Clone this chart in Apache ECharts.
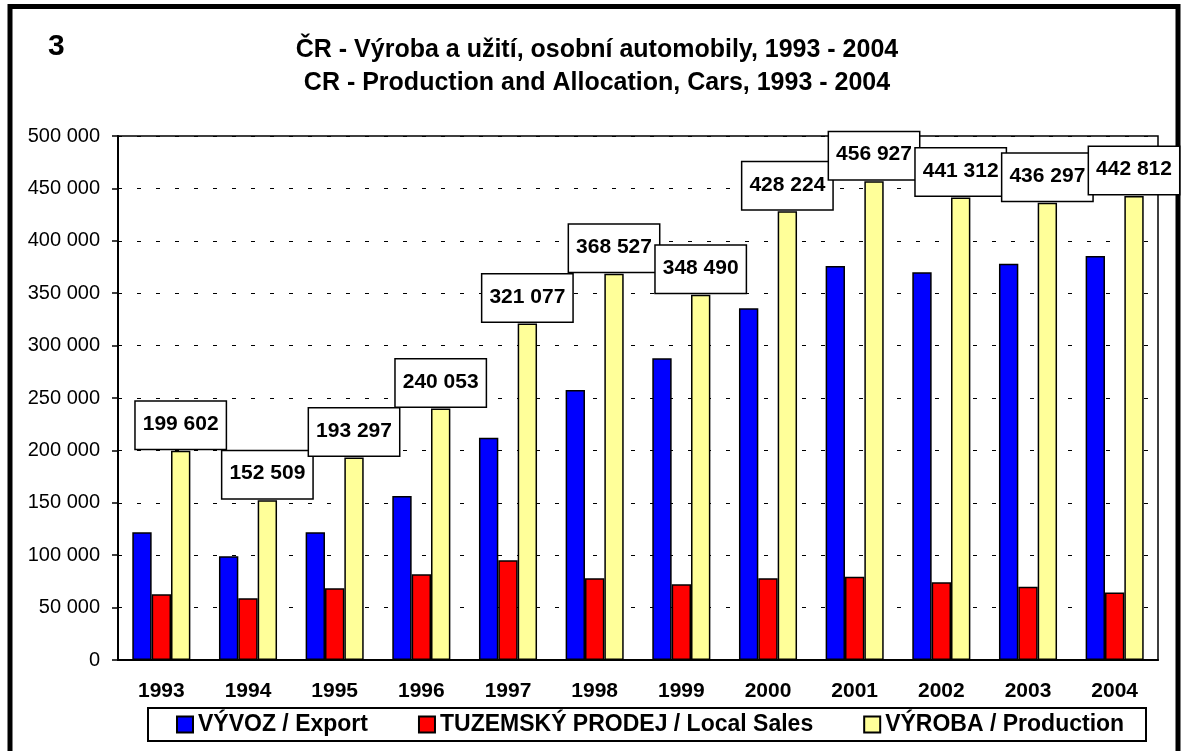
<!DOCTYPE html>
<html>
<head>
<meta charset="utf-8">
<title>CR - Production and Allocation, Cars, 1993 - 2004</title>
<script src="https://cdn.jsdelivr.net/npm/echarts@6.0.0/dist/echarts.min.js"></script>
<style>
  html, body { margin: 0; padding: 0; background: #fff; }
  #chart { width: 1181px; height: 751px; }
</style>
</head>
<body>
<div id="chart"></div>
<script>
// values
var years = ["1993", "1994", "1995", "1996", "1997", "1998", "1999", "2000", "2001", "2002", "2003", "2004"];
var exportVals = [122000, 99000, 122000, 156500, 212000, 257600, 288000, 335600, 376000, 370000, 378000, 385500];
var localVals = [62700, 58900, 68400, 81800, 95100, 78000, 72200, 78000, 79500, 74100, 70000, 64300];
var productionVals = [199602, 152509, 193297, 240053, 321077, 368527, 348490, 428224, 456927, 441312, 436297, 442812];

var FONT = "'Liberation Sans', Arial, sans-serif";

function fmt(v) {
  return String(v).replace(/\B(?=(\d{3})+(?!\d))/g, " ");
}

var chart = echarts.init(document.getElementById("chart"));

chart.setOption({
  animation: false,
  backgroundColor: "#fff",
  textStyle: { fontFamily: FONT, color: "#000" },
  title: [
    {
      text: "3",
      left: 48,
      top: 32,
      padding: 0,
      textStyle: { fontFamily: FONT, fontSize: 30, fontWeight: "bold", color: "#000" }
    },
    {
      text: "ČR - Výroba a užití, osobní automobily, 1993 - 2004",
      left: 597,
      top: 38,
      textAlign: "center",
      padding: 0,
      textStyle: { fontFamily: FONT, fontSize: 25, fontWeight: "bold", color: "#000" }
    },
    {
      text: "CR - Production and Allocation, Cars, 1993 - 2004",
      left: 597,
      top: 71,
      textAlign: "center",
      padding: 0,
      textStyle: { fontFamily: FONT, fontSize: 25, fontWeight: "bold", color: "#000" }
    }
  ],
  graphic: [
    {
      type: "rect",
      z: -1,
      shape: { x: 10, y: 6.5, width: 1168, height: 800 },
      style: { fill: null, stroke: "#000", lineWidth: 5 }
    },
    {
      type: "rect",
      z: 0,
      shape: { x: 148, y: 708, width: 998, height: 33 },
      style: { fill: "#fff", stroke: "#000", lineWidth: 2 }
    }
  ],
  legend: {
    left: 176,
    top: 713,
    padding: 0,
    itemGap: 50,
    itemWidth: 16,
    itemHeight: 16,
    z: 5,
    icon: "rect",
    textStyle: { fontFamily: FONT, fontSize: 23, fontWeight: "bold", color: "#000" },
    data: ["VÝVOZ / Export", "TUZEMSKÝ PRODEJ / Local Sales", "VÝROBA / Production"]
  },
  grid: {
    left: 118,
    right: 23,
    top: 136,
    bottom: 91,
    show: true,
    borderColor: "#000",
    borderWidth: 1.5,
    containLabel: false
  },
  xAxis: {
    type: "category",
    data: years,
    axisLine: { lineStyle: { color: "#000", width: 2 } },
    axisTick: { length: 6, lineStyle: { color: "#000", width: 1.5 } },
    axisLabel: { margin: 21, fontFamily: FONT, fontSize: 21, fontWeight: "bold", color: "#000" }
  },
  yAxis: {
    type: "value",
    min: 0,
    max: 500000,
    interval: 50000,
    axisLine: { show: true, lineStyle: { color: "#000", width: 2 } },
    axisTick: { show: true, length: 6, lineStyle: { color: "#000", width: 1.5 } },
    axisLabel: { margin: 18, fontFamily: FONT, fontSize: 20, color: "#000", formatter: fmt },
    splitLine: { lineStyle: { color: "#000", width: 1, type: [4, 15] } }
  },
  series: [
    {
      name: "VÝVOZ / Export",
      type: "bar",
      data: exportVals,
      barGap: "0%",
      barCategoryGap: "33%",
      itemStyle: { color: "#0000FF", borderColor: "#000", borderWidth: 1.5 }
    },
    {
      name: "TUZEMSKÝ PRODEJ / Local Sales",
      type: "bar",
      data: localVals,
      barGap: "0%",
      barCategoryGap: "33%",
      itemStyle: { color: "#FF0000", borderColor: "#000", borderWidth: 1.5 }
    },
    {
      name: "VÝROBA / Production",
      type: "bar",
      data: productionVals,
      barGap: "0%",
      barCategoryGap: "33%",
      itemStyle: { color: "#FFFF99", borderColor: "#000", borderWidth: 1.5 },
      label: {
        show: true,
        position: "top",
        distance: 2,
        formatter: function (p) { return fmt(p.value); },
        fontFamily: FONT,
        fontSize: 21,
        fontWeight: "bold",
        color: "#000",
        lineHeight: 21,
        backgroundColor: "#fff",
        borderColor: "#000",
        borderWidth: 1.5,
        padding: [12, 7, 14, 7]
      }
    }
  ]
});
</script>
</body>
</html>
